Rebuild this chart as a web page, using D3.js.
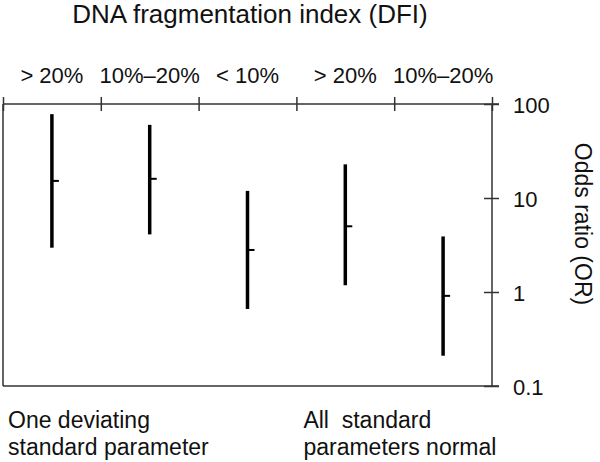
<!DOCTYPE html>
<html>
<head>
<meta charset="utf-8">
<script src="https://cdnjs.cloudflare.com/ajax/libs/d3/7.8.5/d3.min.js"></script>
<style>
  html, body { margin: 0; padding: 0; background: #fff; }
  svg { display: block; font-family: "Liberation Sans", Arial, sans-serif; }
</style>
</head>
<body>
<svg id="chart" width="600" height="462"></svg>
<script>
// DFI groups along the top, odds ratio with 95% CI on a log scale
const categories = ['> 20%', '10%–20%', '< 10%', '> 20%', '10%–20%'];
const oddsRatio = [15.2, 16.0, 2.8, 5.0, 0.91];
const ciLower = [2.96, 4.1, 0.66, 1.18, 0.21];
const ciUpper = [78, 60, 11.9, 22.8, 3.9];
const yTicks = [0.1, 1, 10, 100];
const groupLabels = [
  ['One deviating', 'standard parameter'],
  ['All\u00a0 standard', 'parameters normal']
];

const svg = d3.select('#chart');
const plotLeft = 3, plotRight = 492, plotTop = 104, plotBottom = 386;
const axisColor = '#333';

const x = d3.scaleBand().domain(d3.range(categories.length)).range([plotLeft, plotRight]);
const xEdge = d3.scaleLinear().domain([0, categories.length]).range([plotLeft, plotRight]);
const y = d3.scaleLog().domain([0.1, 100]).range([plotBottom, plotTop]);

// frame: left and bottom lines
svg.append('line')
  .attr('x1', plotLeft).attr('x2', plotLeft).attr('y1', plotTop).attr('y2', plotBottom)
  .attr('stroke', axisColor).attr('stroke-width', 1.5);
svg.append('line')
  .attr('x1', plotLeft).attr('x2', plotRight + 7).attr('y1', plotBottom).attr('y2', plotBottom)
  .attr('stroke', axisColor).attr('stroke-width', 1.5);

// top axis with crossing ticks at the band edges
const topAxis = svg.append('g')
  .attr('transform', `translate(0,${plotTop})`)
  .call(d3.axisTop(xEdge).tickValues(d3.range(categories.length + 1)).tickFormat('').tickSize(7).tickSizeOuter(0));
topAxis.select('.domain').attr('d', `M${plotLeft},0H${plotRight + 7}`).attr('stroke', axisColor).attr('stroke-width', 1.5);
topAxis.selectAll('.tick line').attr('y1', 7).attr('stroke', axisColor).attr('stroke-width', 1.5);

// category labels
svg.append('g')
  .selectAll('text')
  .data(categories)
  .enter().append('text')
  .attr('x', (d, i) => x(i) + x.bandwidth() / 2)
  .attr('y', 83)
  .attr('text-anchor', 'middle')
  .style('font-size', '22px')
  .style('fill', '#111')
  .text(d => d);

// right log axis
const rightAxis = svg.append('g')
  .attr('transform', `translate(${plotRight},0)`)
  .call(d3.axisRight(y).tickValues(yTicks).tickFormat(d => String(d)).tickSize(7).tickSizeOuter(0).tickPadding(14));
rightAxis.select('.domain').attr('d', `M0,${plotTop}V${plotBottom}`).attr('stroke', axisColor).attr('stroke-width', 1.5);
rightAxis.selectAll('.tick line').attr('x1', -8).attr('stroke', axisColor).attr('stroke-width', 1.5);
rightAxis.selectAll('.tick text')
  .style('font-size', '22px')
  .style('font-family', '"Liberation Sans", Arial, sans-serif')
  .style('fill', '#111')
  .attr('dy', '0.4em');

// confidence interval bars
svg.append('g')
  .selectAll('line')
  .data(categories)
  .enter().append('line')
  .attr('x1', (d, i) => x(i) + x.bandwidth() / 2)
  .attr('x2', (d, i) => x(i) + x.bandwidth() / 2)
  .attr('y1', (d, i) => y(ciUpper[i]))
  .attr('y2', (d, i) => y(ciLower[i]))
  .attr('stroke', '#000')
  .attr('stroke-width', 3.5);

// point estimates: short marks to the right of each bar
svg.append('g')
  .selectAll('line')
  .data(categories)
  .enter().append('line')
  .attr('x1', (d, i) => x(i) + x.bandwidth() / 2)
  .attr('x2', (d, i) => x(i) + x.bandwidth() / 2 + 7)
  .attr('y1', (d, i) => y(oddsRatio[i]))
  .attr('y2', (d, i) => y(oddsRatio[i]))
  .attr('stroke', '#000')
  .attr('stroke-width', 2);

// title
svg.append('text')
  .attr('x', 250)
  .attr('y', 23)
  .attr('text-anchor', 'middle')
  .style('font-size', '26px')
  .style('fill', '#111')
  .text('DNA fragmentation index (DFI)');

// y axis title, reading downwards
svg.append('text')
  .attr('transform', `translate(575,224) rotate(90)`)
  .attr('text-anchor', 'middle')
  .style('font-size', '23px')
  .style('fill', '#111')
  .text('Odds ratio (OR)');

// group labels under the chart
const groupX = [xEdge(0) + 5, xEdge(3) + 7];
groupLabels.forEach((lines, g) => {
  const t = svg.append('text')
    .attr('x', groupX[g])
    .attr('y', 428)
    .style('font-size', '23px')
    .style('fill', '#111');
  lines.forEach((line, k) => {
    t.append('tspan')
      .attr('x', groupX[g])
      .attr('dy', k === 0 ? 0 : 27)
      .text(line);
  });
});
</script>
</body>
</html>
